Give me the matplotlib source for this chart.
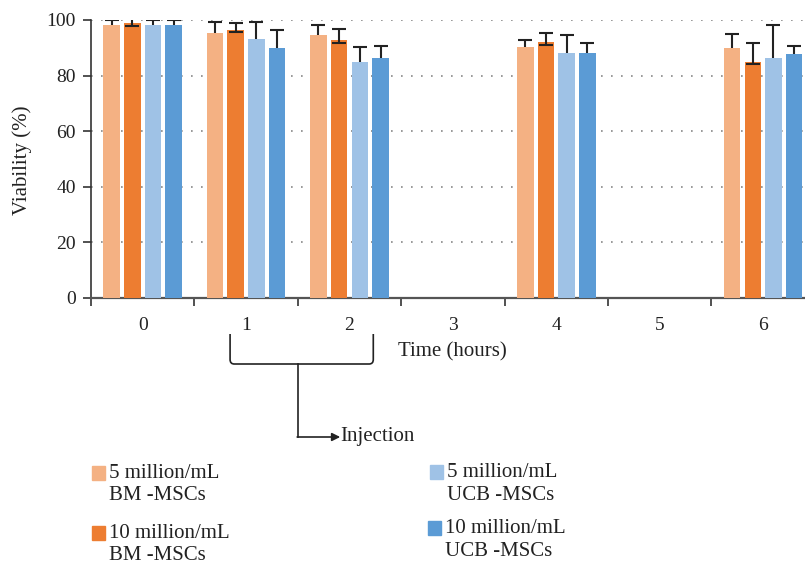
import matplotlib
matplotlib.use("Agg")
import matplotlib.pyplot as plt
import numpy as np
from matplotlib.patches import Rectangle, PathPatch
from matplotlib.path import Path
from matplotlib.transforms import blended_transform_factory

plt.rcParams['font.family'] = ['Liberation Serif', 'DejaVu Serif']

# data
hours = ['0', '1', '2', '3', '4', '5', '6']
series = ['5 million/mL\nBM -MSCs', '10 million/mL\nBM -MSCs',
          '5 million/mL\nUCB -MSCs', '10 million/mL\nUCB -MSCs']
colors = ['#F4B183', '#ED7D31', '#9FC2E6', '#5B9BD5']

# np.nan where no measurement was taken (3 h and 5 h)
bm_5 = [98.3, 95.4, 94.7, np.nan, 90.4, np.nan, 90.0]
bm_10 = [99.0, 96.5, 92.9, np.nan, 92.2, np.nan, 85.0]
ucb_5 = [98.3, 93.3, 85.0, np.nan, 88.2, np.nan, 86.4]
ucb_10 = [98.3, 90.0, 86.4, np.nan, 88.2, np.nan, 87.8]

bm_5_err = [1.7, 3.9, 3.5, np.nan, 2.3, np.nan, 4.8]
bm_10_err = [1.9, 2.3, 4.0, np.nan, 3.0, np.nan, 6.7]
bm_10_err_lo = [1.0, 0.8, 1.1, np.nan, 1.2, np.nan, 0.9]
ucb_5_err = [1.7, 6.0, 5.4, np.nan, 6.3, np.nan, 11.8]
ucb_10_err = [1.7, 6.3, 4.1, np.nan, 3.4, np.nan, 3.0]

values = [bm_5, bm_10, ucb_5, ucb_10]
errors = [bm_5_err, bm_10_err, ucb_5_err, ucb_10_err]

fig = plt.figure(figsize=(8.05, 5.67), dpi=100)
ax = fig.add_axes([91 / 805, 1 - 298 / 567, 1 - 91 / 805, (298 - 20) / 567])

x = np.arange(len(hours))
width = 0.16
step = 0.2
for i, (vals, errs, c) in enumerate(zip(values, errors, colors)):
    pos = x + (i - 1.5) * step
    ax.bar(pos, vals, width, color=c, zorder=3)
    if i == 1:
        # orange bars show both caps, drawn on top
        ax.errorbar(pos, vals, yerr=[bm_10_err_lo, errs], fmt='none',
                    ecolor='#222222', elinewidth=1.5, capsize=5, capthick=1.5, zorder=4)
    else:
        ax.errorbar(pos, vals, yerr=errs, fmt='none',
                    ecolor='#222222', elinewidth=1.5, capsize=5, capthick=1.5, zorder=2)

ax.set_yticks([0, 20, 40, 60, 80, 100])
ax.set_xticks(x)
ax.set_xticklabels(hours)
ax.set_xticks(np.arange(-0.5, 7, 1), minor=True)
# limits after the ticks, set_xticks widens the view otherwise
ax.set_ylim(0, 100)
ax.set_xlim(-0.5, 6.405)
ax.tick_params(axis='x', which='major', length=0, pad=14, labelsize=14)
ax.tick_params(axis='x', which='minor', length=6, width=1.2, color='#333333')
ax.tick_params(axis='y', length=6, width=1.2, color='#333333', labelsize=14, pad=5)
for t in ax.get_xticklabels() + ax.get_yticklabels():
    t.set_color('#222222')

ax.yaxis.grid(True, linestyle=(0, (1, 5)), linewidth=1.2, color='#888888', zorder=0)
ax.set_axisbelow(True)
for s in ['top', 'right']:
    ax.spines[s].set_visible(False)
ax.spines['left'].set_color('#333333')
ax.spines['left'].set_linewidth(1.2)
ax.spines['bottom'].set_color('#555555')
ax.spines['bottom'].set_linewidth(1.6)

fig.text(452 / 805, 1 - 352 / 567, 'Time (hours)', ha='center', va='center',
         fontsize=15, color='#222222')
fig.text(22 / 805, 1 - 160 / 567, 'Viability (%)', ha='center', va='center',
         rotation=90, fontsize=15, color='#222222')

# injection bracket under 1 h and 2 h
tr = blended_transform_factory(ax.transData, fig.transFigure)
x0, x1, xm = 0.845, 2.23, 1.5
y_top, y_bot = 1 - 334 / 567, 1 - 364 / 567
rx, ry = 0.04, 0.008
verts = [(x0, y_top), (x0, y_bot + ry), (x0, y_bot), (x0 + rx, y_bot),
         (x1 - rx, y_bot), (x1, y_bot), (x1, y_bot + ry), (x1, y_top)]
codes = [Path.MOVETO, Path.LINETO, Path.CURVE3, Path.CURVE3,
         Path.LINETO, Path.CURVE3, Path.CURVE3, Path.LINETO]
ax.add_patch(PathPatch(Path(verts, codes), transform=tr, fill=False,
                       edgecolor='#222222', linewidth=1.2, clip_on=False))
y_arr = 1 - 437 / 567
ax.plot([xm, xm], [y_bot, y_arr], color='#222222', linewidth=1.2,
        transform=tr, clip_on=False)
ax.annotate('', xy=(1.91, y_arr), xytext=(xm - 0.006, y_arr),
            xycoords=tr, textcoords=tr,
            arrowprops=dict(arrowstyle='-|>', color='#222222', lw=1.2,
                            mutation_scale=12, shrinkA=0, shrinkB=0))
ax.text(1.915, y_arr, 'Injection', transform=tr, ha='left', va='center',
        fontsize=15, color='#222222')

# legend laid out by hand, two columns
legend_xy = [(92, 466), (92, 526), (430, 465), (428, 521)]
for (px, py), label, c in zip(legend_xy, series, colors):
    fig.patches.append(Rectangle((px / 805, 1 - (py + 14) / 567), 13 / 805, 14 / 567,
                                 transform=fig.transFigure, color=c))
    fig.text((px + 17) / 805, 1 - (py - 2) / 567, label, ha='left', va='top',
             fontsize=15, color='#222222', linespacing=1.25)

fig.savefig('out.png', dpi=100)
